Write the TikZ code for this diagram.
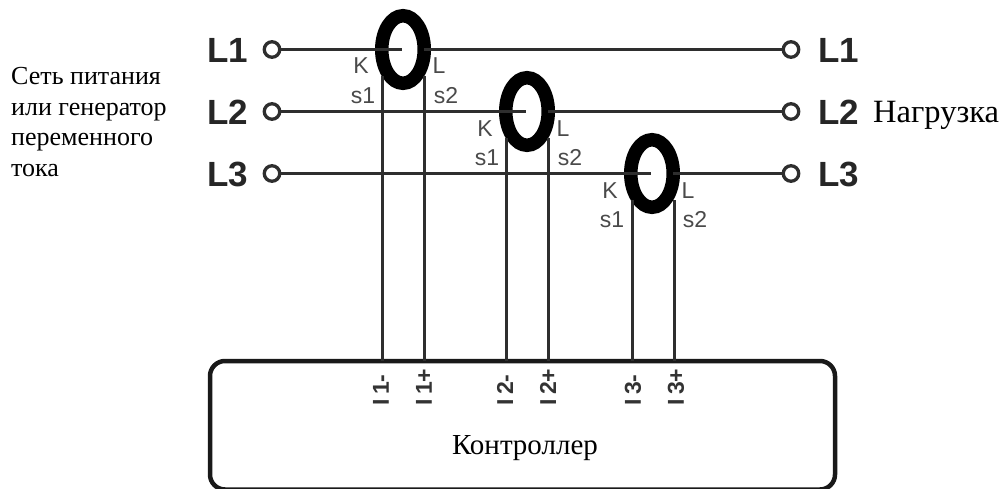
\documentclass[tikz,border=0pt]{standalone}
\usepackage{fontspec}
\setmainfont{Liberation Serif}
\newfontfamily\arialfont{Liberation Sans}
\newfontfamily\pinfont[WordSpace=0.7]{Liberation Sans}
\usetikzlibrary{shapes.geometric}
\definecolor{wireGray}{HTML}{2E2E2E}
\definecolor{markGray}{HTML}{4A4A4A}
\begin{document}
\begin{tikzpicture}[x = 1pt, y = -1pt]
	\tikzstyle{termStyle} = [shape = circle, minimum size = 15.5pt, inner sep = 0pt, draw = wireGray, line width = 3.3pt, fill = white]
	\tikzstyle{ringStyle} = [shape = ellipse, minimum width = 42.5pt, minimum height = 67.5pt, inner sep = 0pt, outer sep = 0pt, draw = black, line width = 13.5pt]
	\tikzstyle{wireStyle} = [draw = wireGray, line width = 3pt]
	\tikzstyle{phaseStyle} = [font = \arialfont\bfseries\fontsize{35}{35}\selectfont, text = black!85, inner sep = 0pt]
	\tikzstyle{markStyle} = [font = \arialfont\fontsize{23}{23}\selectfont, text = markGray, inner sep = 0pt]
	\tikzstyle{pinStyle} = [font = \pinfont\bfseries\fontsize{23}{23}\selectfont, text = black!80, rotate = 90, anchor = west, inner sep = 0pt]
	\tikzstyle{textStyle} = [inner sep = 0pt, anchor = west, align = left]
	\useasboundingbox (0, 0) rectangle (1003, 489);
	% box
	\draw[draw = black!90, line width = 4.5pt, rounded corners = 15pt] (210, 361) rectangle (835, 489.5);
	\node[inner sep = 0pt, font = \fontsize{29}{29}\selectfont] (ctrl) at (525, 448) {Контроллер};
	% rings
	\node[ringStyle] (r1) at (403, 49.5) {};
	\node[ringStyle] (r2) at (527, 111.5) {};
	\node[ringStyle] (r3) at (652, 173.5) {};
	\coordinate (c1) at (402, 49.5);
	\coordinate (c2) at (526, 111.5);
	\coordinate (c3) at (651, 173.5);
	% terminals
	\node[termStyle] (a1) at (272, 49.5) {};
	\node[termStyle] (a2) at (272, 111.5) {};
	\node[termStyle] (a3) at (272, 173.5) {};
	\node[termStyle] (b1) at (791, 49.5) {};
	\node[termStyle] (b2) at (791, 111.5) {};
	\node[termStyle] (b3) at (791, 173.5) {};
	% phase lines
	\draw[wireStyle] (a1) -- (c1);
	\draw[wireStyle] (a2) -- (c2);
	\draw[wireStyle] (a3) -- (c3);
	\draw[wireStyle] (r1) -- (b1);
	\draw[wireStyle] (r2) -- (b2);
	\draw[wireStyle] (r3) -- (b3);
	% secondary wires
	\coordinate (w1) at (382, 76);
	\coordinate (w2) at (424, 76);
	\coordinate (w3) at (506, 138);
	\coordinate (w4) at (548, 138);
	\coordinate (w5) at (632, 200);
	\coordinate (w6) at (674, 200);
	\coordinate (p1) at (382, 361);
	\coordinate (p2) at (424, 361);
	\coordinate (p3) at (506, 361);
	\coordinate (p4) at (548, 361);
	\coordinate (p5) at (632, 361);
	\coordinate (p6) at (674, 361);
	\draw[wireStyle] (w1) -- (p1);
	\draw[wireStyle] (w2) -- (p2);
	\draw[wireStyle] (w3) -- (p3);
	\draw[wireStyle] (w4) -- (p4);
	\draw[wireStyle] (w5) -- (p5);
	\draw[wireStyle] (w6) -- (p6);
	% pin labels
	\node[pinStyle] (i1) at (381, 406) {I 1-};
	\node[pinStyle] (i2) at (424, 406) {I 1+};
	\node[pinStyle] (i3) at (505, 406) {I 2-};
	\node[pinStyle] (i4) at (548, 406) {I 2+};
	\node[pinStyle] (i5) at (633, 406) {I 3-};
	\node[pinStyle] (i6) at (676, 406) {I 3+};
	% ring labels
	\node[markStyle] (k1) at (361, 66) {K};
	\node[markStyle] (l1) at (439, 66) {L};
	\node[markStyle] (s1) at (363, 96) {s1};
	\node[markStyle] (s2) at (446, 96) {s2};
	\node[markStyle] (k2) at (485, 129) {K};
	\node[markStyle] (l2) at (563, 129) {L};
	\node[markStyle] (s3) at (487, 158) {s1};
	\node[markStyle] (s4) at (570, 158) {s2};
	\node[markStyle] (k3) at (610, 191) {K};
	\node[markStyle] (l3) at (688, 191) {L};
	\node[markStyle] (s5) at (612, 220) {s1};
	\node[markStyle] (s6) at (695, 220) {s2};
	% phase labels
	\node[phaseStyle] (la1) at (228, 50) {L1};
	\node[phaseStyle] (la2) at (228, 112) {L2};
	\node[phaseStyle] (la3) at (228, 174) {L3};
	\node[phaseStyle] (lb1) at (839, 50) {L1};
	\node[phaseStyle] (lb2) at (839, 112) {L2};
	\node[phaseStyle] (lb3) at (839, 174) {L3};
	% texts
	\node[textStyle, font = \fontsize{32.5}{32.5}\selectfont] (load) at (873, 115) {Нагрузка};
	\node[textStyle, font = \fontsize{26}{30.5}\selectfont] (source) at (11, 122) {Сеть питания\\или генератор\\переменного\\тока};
\end{tikzpicture}
\end{document}
